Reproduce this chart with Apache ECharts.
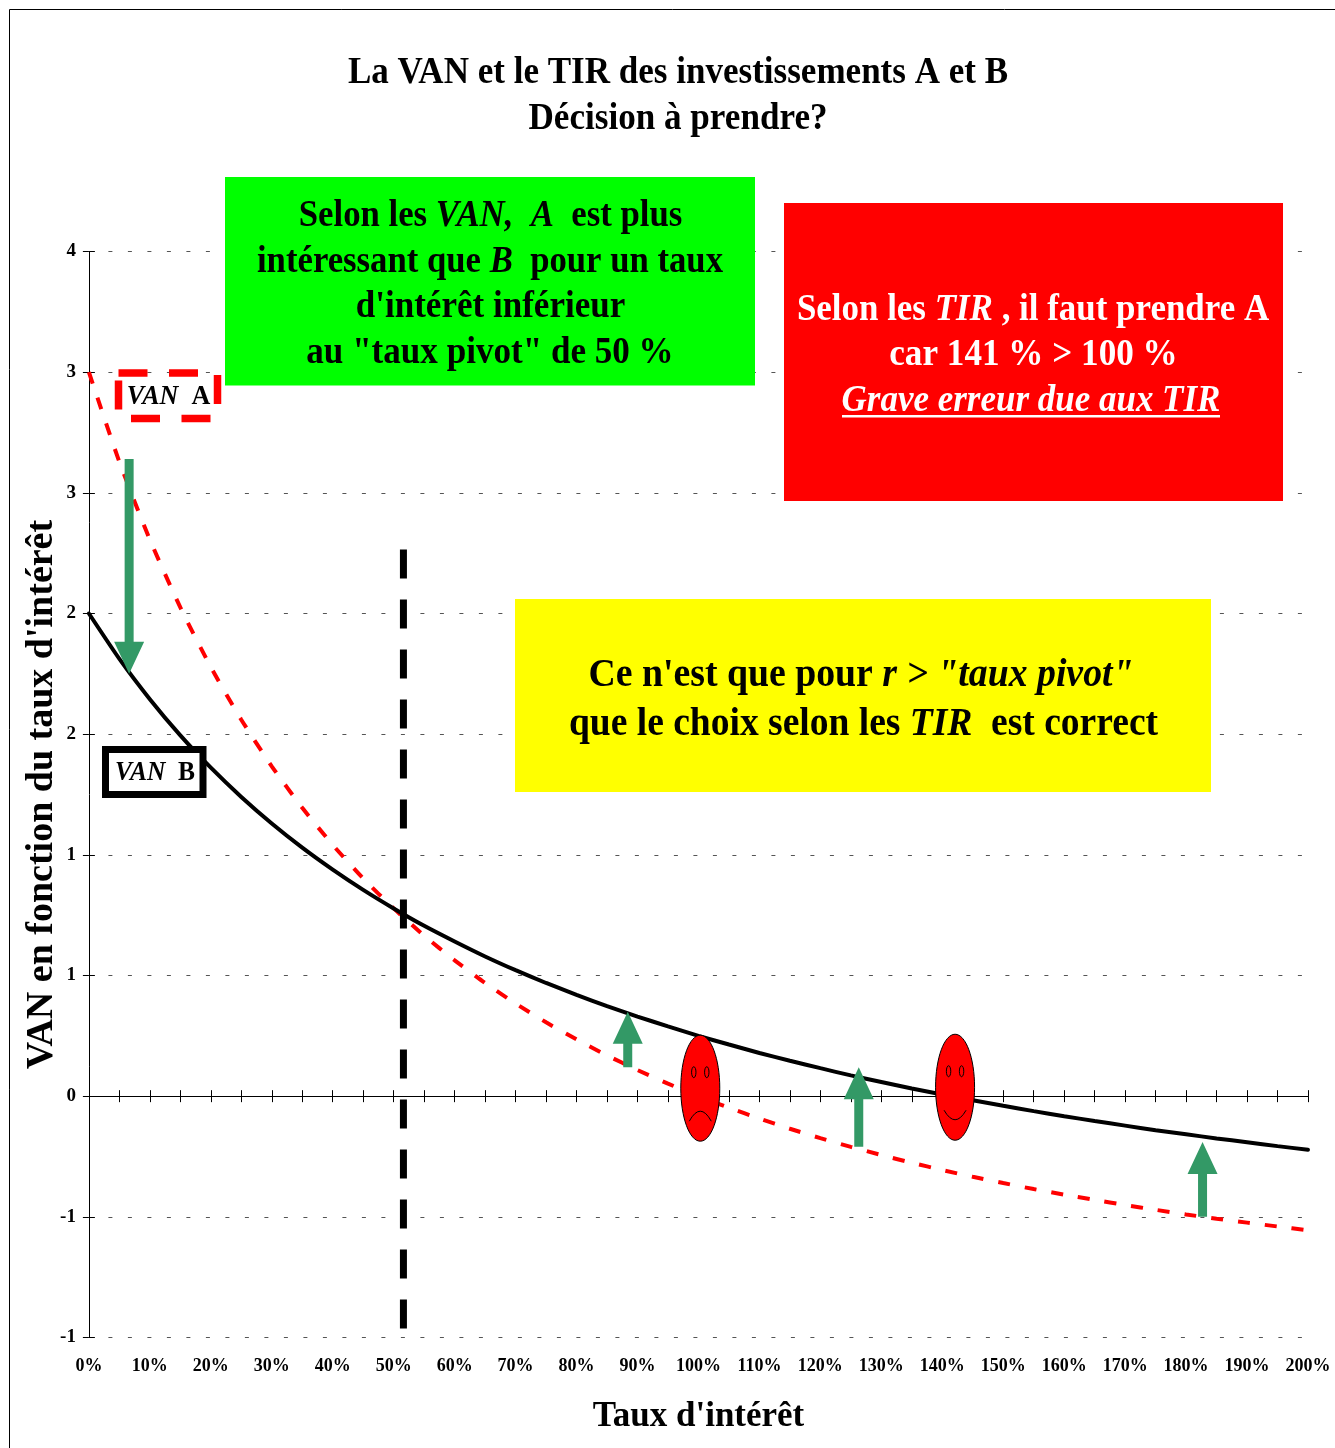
<!DOCTYPE html>
<html>
<head>
<meta charset="utf-8">
<title>VAN et TIR</title>
<style>
    html, body { margin: 0; padding: 0; background: #fff; }
    #main { width: 1335px; height: 1448px; }
</style>
<script src="https://cdn.jsdelivr.net/npm/echarts@6/dist/echarts.min.js"></script>
</head>
<body>
<div id="main"></div>
<script>
// taux d'interet, en %
var rates = [0, 5, 10, 15, 20, 25, 30, 35, 40, 45, 50, 55, 60, 65, 70, 75, 80, 85, 90, 95, 100,
    105, 110, 115, 120, 125, 130, 135, 140, 145, 150, 155, 160, 165, 170, 175, 180, 185, 190, 195, 200];
var vanA = [3, 2.628, 2.306, 2.025, 1.778, 1.56, 1.367, 1.195, 1.041, 0.902, 0.778, 0.665, 0.563, 0.469, 0.384, 0.306, 0.235, 0.169, 0.108, 0.052, 0,
    -0.048, -0.093, -0.135, -0.174, -0.21, -0.244, -0.276, -0.306, -0.334, -0.36, -0.385, -0.408, -0.43, -0.451, -0.471, -0.49, -0.508, -0.524, -0.54, -0.556];
var vanB = [2, 1.812, 1.645, 1.495, 1.361, 1.24, 1.13, 1.03, 0.939, 0.855, 0.778, 0.706, 0.641, 0.579, 0.522, 0.469, 0.42, 0.373, 0.33, 0.289, 0.25,
    0.214, 0.179, 0.147, 0.116, 0.086, 0.059, 0.032, 0.007, -0.017, -0.04, -0.062, -0.083, -0.103, -0.122, -0.141, -0.158, -0.175, -0.191, -0.207, -0.222];
var yTickLabels = ['-1', '-1', '0', '1', '1', '2', '2', '3', '3', '4'];
// ligne du taux pivot
var pivotLine = [[51.6, 2.265], [51.6, -0.97]];
// fleches : x queue, y queue, x pointe, y pointe
var arrows = [
    [6.6, 2.64, 6.6, 1.75],
    [88.4, 0.12, 88.4, 0.35],
    [126.3, -0.21, 126.3, 0.12],
    [182.7, -0.5, 182.7, -0.19]
];
// visages : x, y, humeur (-1 triste, 1 content)
var faces = [
    [100.3, 0.033, -1],
    [142.1, 0.037, 1]
];

var FONT = '"Liberation Serif", "Times New Roman", serif';

function zip(xs, ys) {
    return xs.map(function (x, i) { return [x, ys[i]]; });
}

// texte sur une ligne, avec morceaux gras / gras italique, resserre par sx
function line(text, x, y, size, color, sx) {
    var base = { fontFamily: FONT, fontSize: size, fontWeight: 'bold', fill: color, color: color };
    y += 2.5;
    return {
        type: 'text',
        z: 12,
        scaleX: sx,
        originX: x,
        originY: y,
        style: {
            x: x, y: y, text: text, align: 'center', verticalAlign: 'middle',
            fontFamily: FONT, fontSize: size, fontWeight: 'bold', fill: color,
            rich: {
                b: base,
                i: { fontFamily: FONT, fontSize: size, fontWeight: 'bold', fontStyle: 'italic', fill: color, color: color }
            }
        }
    };
}

function box(x, y, w, h, color) {
    return { type: 'rect', z: 10, shape: { x: x, y: y, width: w, height: h }, style: { fill: color } };
}

var chart = echarts.init(document.getElementById('main'));

var graphics = [
    { type: 'rect', z: 30, shape: { x: 9.5, y: 9.5, width: 1500, height: 1600 }, style: { fill: 'none', stroke: '#000', lineWidth: 1 } },
    line('{b|La VAN et le TIR des investissements A et B}', 678, 71, 37, '#000', 0.947),
    line('{b|Décision à prendre?}', 678, 117, 37, '#000', 0.949),

    box(225, 177, 530, 208.5, '#00ff00'),
    line('{b|Selon les }{i|VAN,  A}{b|  est plus}', 490.5, 214, 37, '#000', 0.939),
    line('{b|intéressant que }{i|B}{b|  pour un taux}', 490, 260, 37, '#000', 0.938),
    line("{b|d'intérêt inférieur}", 490.5, 305, 37, '#000', 0.947),
    line('{b|au "taux pivot" de 50 %}', 490, 351, 37, '#000', 0.948),

    box(784, 203, 499, 298, '#ff0000'),
    line('{b|Selon les }{i|TIR}{b| , il faut prendre A}', 1033, 308, 37, '#fff', 0.944),
    line('{b|car 141 % > 100 %}', 1033.5, 353, 37, '#fff', 0.95),
    line('{i|Grave erreur due aux TIR}', 1031, 399, 37, '#fff', 0.945),
    box(842, 415, 378, 2.5, '#fff'),

    box(515, 599, 696, 193, '#ffff00'),
    line('{b|Ce n\'est que pour }{i|r > "taux pivot"}', 861, 673, 40, '#000', 0.944),
    line('{b|que le choix selon les }{i|TIR}{b|  est correct}', 863.5, 722, 40, '#000', 0.938),

    { type: 'rect', z: 11, shape: { x: 118.5, y: 373, width: 99, height: 45.5 },
        style: { fill: 'none', stroke: '#ff0000', lineWidth: 7.5, lineDash: [29, 21.5] } },
    line('{i|VAN}{b|  A}', 168.5, 394, 28, '#000', 0.93),
    { type: 'rect', z: 11, shape: { x: 105.5, y: 749.5, width: 97.5, height: 45 },
        style: { fill: '#fff', stroke: '#000', lineWidth: 7 } },
    line('{i|VAN}{b|  B}', 155, 770, 28, '#000', 0.91)
];

// fleche verte en coordonnees de donnees
function renderArrow(params, api) {
    var a = api.coord([api.value(0), api.value(1)]);
    var b = api.coord([api.value(2), api.value(3)]);
    var dir = b[1] > a[1] ? 1 : -1;
    var baseY = b[1] - dir * 32;
    return {
        type: 'polygon',
        z2: 5,
        shape: {
            points: [
                [a[0] - 4.5, a[1]], [a[0] + 4.5, a[1]], [a[0] + 4.5, baseY], [a[0] + 15, baseY],
                [b[0], b[1]], [a[0] - 15, baseY], [a[0] - 4.5, baseY]
            ]
        },
        style: { fill: '#339966' }
    };
}

function renderFace(params, api) {
    var c = api.coord([api.value(0), api.value(1)]);
    var mood = api.value(2);
    var ink = { fill: 'none', stroke: '#000', lineWidth: 1 };
    // bouche, vers le bas si content
    var mouthEnd = mood > 0 ? 23 : 33;
    var mouthCtl = mood > 0 ? 42 : 13;
    return {
        type: 'group',
        children: [
            { type: 'ellipse', shape: { cx: c[0], cy: c[1], rx: 19.5, ry: 53 }, style: { fill: '#ff0000', stroke: '#000', lineWidth: 1 } },
            { type: 'ellipse', shape: { cx: c[0] - 6.5, cy: c[1] - 16, rx: 2.2, ry: 5.5 }, style: ink },
            { type: 'ellipse', shape: { cx: c[0] + 6.5, cy: c[1] - 16, rx: 2.2, ry: 5.5 }, style: ink },
            { type: 'bezierCurve', shape: { x1: c[0] - 11, y1: c[1] + mouthEnd, x2: c[0] + 11, y2: c[1] + mouthEnd, cpx1: c[0], cpy1: c[1] + mouthCtl }, style: ink }
        ]
    };
}

var option = {
    animation: false,
    backgroundColor: '#fff',
    textStyle: { fontFamily: FONT },
    grid: { left: 88.9, right: 27, top: 251.5, bottom: 110.5, containLabel: false, outerBoundsMode: 'none' },
    graphic: { elements: graphics },
    xAxis: [
        {
            type: 'value', position: 'bottom', min: 0, max: 200, interval: 10,
            name: "Taux d'intérêt", nameLocation: 'middle', nameGap: 62,
            nameTextStyle: { fontFamily: FONT, fontSize: 35, fontWeight: 'bold', color: '#000' },
            axisLine: { show: false, onZero: false },
            axisTick: { show: false },
            splitLine: { show: false },
            axisLabel: {
                margin: 20, fontFamily: FONT, fontSize: 18, fontWeight: 'bold', color: '#000',
                showMinLabel: true, showMaxLabel: true, hideOverlap: false,
                formatter: function (v) { return v + '%'; }
            }
        },
        {
            type: 'value', position: 'bottom', min: 0, max: 200, interval: 5,
            axisLine: { show: true, onZero: true, lineStyle: { color: '#000', width: 1 } },
            axisTick: { show: true, length: 6, lineStyle: { color: '#000' } },
            splitLine: { show: false },
            axisLabel: { show: false }
        },
        {
            type: 'value', position: 'top', min: 0, max: 200, interval: 5,
            axisLine: { show: true, onZero: true, lineStyle: { color: '#000', width: 1 } },
            axisTick: { show: true, length: 6, lineStyle: { color: '#000' } },
            splitLine: { show: false },
            axisLabel: { show: false }
        }
    ],
    yAxis: [
        {
            type: 'value', position: 'left', min: -1, max: 3.5, interval: 0.5,
            name: "VAN en fonction du taux d'intérêt", nameLocation: 'middle', nameGap: 27.5, nameRotate: 90,
            nameMoveOverlap: false,
            nameTextStyle: { fontFamily: FONT, fontSize: 38, fontWeight: 'bold', color: '#000' },
            axisLine: { show: true, lineStyle: { color: '#000', width: 1 } },
            axisTick: { show: true, length: 6, lineStyle: { color: '#000' } },
            splitLine: { show: true, lineStyle: { color: '#555', width: 1, type: [4, 15.5] } },
            axisLabel: {
                margin: 13, fontFamily: FONT, fontSize: 19, fontWeight: 'bold', color: '#000',
                formatter: function (v) { return yTickLabels[Math.round((v + 1) / 0.5)]; }
            }
        },
        {
            type: 'value', position: 'left', min: -1, max: 3.5, interval: 0.5,
            axisLine: { show: false },
            axisTick: { show: true, inside: true, length: 6, lineStyle: { color: '#000' } },
            splitLine: { show: false },
            axisLabel: { show: false }
        }
    ],
    series: [
        {
            name: 'VAN A', type: 'line', data: zip(rates, vanA), symbol: 'none', z: 3, smooth: 0.2,
            lineStyle: { color: '#ff0000', width: 4, type: [12, 15] }
        },
        {
            name: 'VAN B', type: 'line', data: zip(rates, vanB), symbol: 'none', z: 4, smooth: 0.2,
            lineStyle: { color: '#000', width: 4, cap: 'round' }
        },
        {
            name: 'Taux pivot', type: 'line', data: pivotLine, symbol: 'none', z: 5,
            lineStyle: { color: '#000', width: 7, type: [29, 21] }
        },
        {
            name: 'Fleches', type: 'custom', data: arrows, renderItem: renderArrow, z: 20, clip: false,
            encode: { x: [0, 2], y: [1, 3] }
        },
        {
            name: 'Visages', type: 'custom', data: faces, renderItem: renderFace, z: 21, clip: false,
            encode: { x: 0, y: 1 }
        }
    ]
};

chart.setOption(option);
window.onresize = chart.resize;
</script>
</body>
</html>
